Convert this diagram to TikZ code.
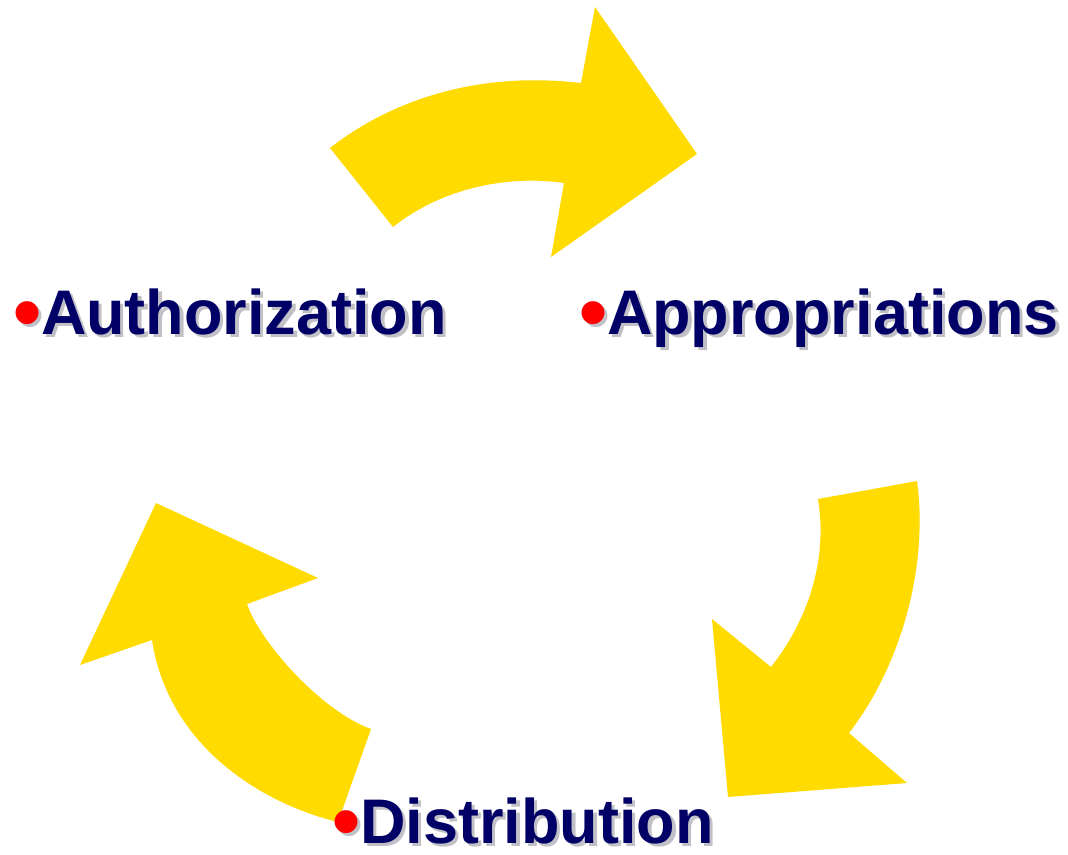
\documentclass[tikz,border=0pt]{standalone}
\usepackage{fontspec}
\setmainfont{Liberation Sans}
\usetikzlibrary{calc}
\definecolor{arrowyellow}{RGB}{255,219,0}
\definecolor{labelnavy}{RGB}{0,0,102}
\definecolor{shadowgray}{RGB}{192,192,198}
\definecolor{bulletred}{RGB}{255,0,0}
\tikzset{
  bigarrow/.style={fill=arrowyellow, draw=none},
  lbl/.style={anchor=base west, inner sep=0pt, outer sep=0pt,
    font=\fontsize{63}{70}\selectfont\bfseries},
}
\newcommand{\bul}{\raisebox{-5pt}{\fontsize{80}{80}\selectfont•}}
\newcommand{\shadowlabel}[3]{%
  \node[lbl, text=shadowgray] (#1s) at ($(#2)+(3.5,3.5)$) {\bul#3};
  \node[lbl, text=labelnavy] (#1) at (#2) {\textcolor{bulletred}{\bul}#3};
}
\begin{document}
\begin{tikzpicture}[x=1pt,y=-1pt]
\useasboundingbox (0,0) rectangle (1068,854);
\fill[white] (0,0) rectangle (1068,854);
% top arrow
\path[bigarrow] (330,148) .. controls (385,105) and (470,70) .. (581,83)
  -- (595,7) -- (697,154) -- (551,257) -- (564,183)
  .. controls (510,175) and (443,187) .. (393,227) -- cycle;
% right arrow
\path[bigarrow] (818,499) -- (917,481) .. controls (928,560) and (905,660) .. (849,733)
  -- (907,783) -- (728,797) -- (712,619) -- (771,667)
  .. controls (808,620) and (828,560) .. (818,499) -- cycle;
% left arrow
\path[bigarrow] (371,729) -- (338,822) .. controls (260,803) and (168,745) .. (152,640)
  -- (80,665) -- (156,503) -- (318,578) -- (247,604)
  .. controls (260,642) and (321,711) .. (371,729) -- cycle;
% labels
\coordinate (pa) at (13,334);
\coordinate (pb) at (579,334);
\coordinate (pc) at (332,843);
\shadowlabel{auth}{pa}{Authorization}
\shadowlabel{appr}{pb}{Appropriations}
\shadowlabel{dist}{pc}{Distribution}
\end{tikzpicture}
\end{document}
